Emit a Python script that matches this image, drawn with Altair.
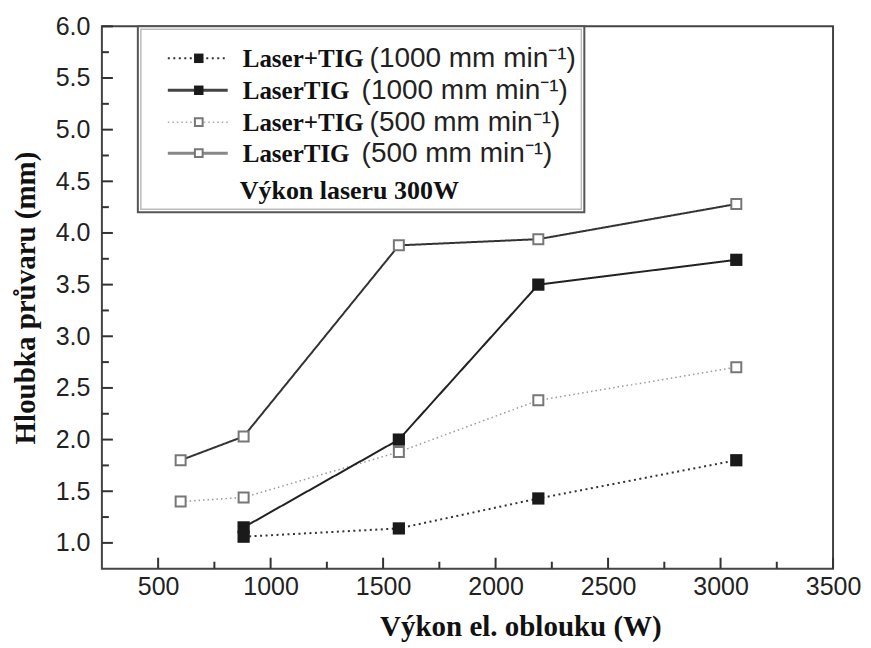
import altair as alt
import pandas as pd

# ---- data ----
x_1000 = [880, 1570, 2190, 3070]
y_plus_1000 = [1.06, 1.14, 1.43, 1.80]      # Laser+TIG (1000 mm/min)
y_laser_1000 = [1.15, 2.00, 3.50, 3.74]     # LaserTIG (1000 mm/min)
x_500 = [600, 880, 1570, 2190, 3070]
y_plus_500 = [1.40, 1.44, 1.88, 2.38, 2.70]  # Laser+TIG (500 mm/min)
y_laser_500 = [1.80, 2.03, 3.88, 3.94, 4.28] # LaserTIG (500 mm/min)

x_major = [500, 1000, 1500, 2000, 2500, 3000, 3500]
x_minor = [750, 1250, 1750, 2250, 2750, 3250]
y_major = [1.0, 1.5, 2.0, 2.5, 3.0, 3.5, 4.0, 4.5, 5.0, 5.5, 6.0]
y_minor = [1.25, 1.75, 2.25, 2.75, 3.25, 3.75, 4.25, 4.75, 5.25, 5.75]

legend_names = ["Laser+TIG", "LaserTIG", "Laser+TIG", "LaserTIG"]
legend_speeds = ["(1000 mm min\u207b\u00b9)", "(1000 mm min\u207b\u00b9)",
                 "(500 mm min\u207b\u00b9)", "(500 mm min\u207b\u00b9)"]
legend_note = "Výkon laseru 300W"
x_title = "Výkon el. oblouku (W)"
y_title = "Hloubka průvaru (mm)"

W, H = 732, 543
SANS = "Liberation Sans"
SERIF = "Liberation Serif"

xs = alt.Scale(domain=[250, 3500], nice=False, zero=False)
ys = alt.Scale(domain=[0.75, 6.0], nice=False, zero=False)

xaxis = alt.Axis(values=x_major, format="d", ticks=False, domain=False, grid=False,
                 labelFont=SANS, labelFontSize=25, labelColor="#222", labelPadding=6,
                 labelFlush=False, title=x_title, titleFont=SERIF, titleFontWeight="bold",
                 titleFontSize=29, titleColor="#111", titleX=419, titleY=44,
                 titleAlign="center", titleBaseline="top")
yaxis = alt.Axis(values=y_major, format=".1f", ticks=False, domain=False, grid=False,
                 labelFont=SANS, labelFontSize=25, labelColor="#222", labelPadding=12,
                 labelFlush=False, title=y_title, titleFont=SERIF, titleFontWeight="bold",
                 titleFontSize=29, titleColor="#111", titleX=-76, titleY=H / 2,
                 titleAngle=-90, titleAlign="center", titleBaseline="middle")


def X(field="x"):
    return alt.X(f"{field}:Q", scale=xs, axis=xaxis)


def Y(field="y"):
    return alt.Y(f"{field}:Q", scale=ys, axis=yaxis)


def series(xv, yv, dash, color, width, filled):
    df = pd.DataFrame({"x": xv, "y": yv})
    base = alt.Chart(df)
    line = base.mark_line(color=color, strokeWidth=width, strokeDash=dash).encode(x=X(), y=Y())
    if filled:
        pts = base.mark_point(shape="square", filled=True, color="#1a1a1a", size=150, opacity=1).encode(x=X(), y=Y())
    else:
        pts = base.mark_point(shape="square", filled=True, fill="white", stroke="#777",
                              strokeWidth=2, size=100, opacity=1).encode(x=X(), y=Y())
    return [line, pts]


layers = []
layers += series(x_500, y_plus_500, [1.5, 3], "#9a9a9a", 1.5, False)
layers += series(x_500, y_laser_500, [1, 0], "#333", 2, False)
layers += series(x_1000, y_plus_1000, [2, 3.5], "#333", 2, True)
layers += series(x_1000, y_laser_1000, [1, 0], "#222", 2, True)

# inward ticks
tick_color = "#333"
layers.append(alt.Chart(pd.DataFrame({"x": x_major})).mark_rule(color=tick_color, strokeWidth=2)
              .encode(x=X(), y=alt.value(H), y2=alt.value(H - 11)))
layers.append(alt.Chart(pd.DataFrame({"x": x_minor})).mark_rule(color=tick_color, strokeWidth=2)
              .encode(x=X(), y=alt.value(H), y2=alt.value(H - 7)))
layers.append(alt.Chart(pd.DataFrame({"y": y_major})).mark_rule(color=tick_color, strokeWidth=2)
              .encode(y=Y(), x=alt.value(0), x2=alt.value(11)))
layers.append(alt.Chart(pd.DataFrame({"y": y_minor})).mark_rule(color=tick_color, strokeWidth=2)
              .encode(y=Y(), x=alt.value(0), x2=alt.value(7)))

# ---- legend box ----
one = alt.Data(values=[{"a": 1}])
layers.append(alt.Chart(one).mark_rect(fill="white", stroke="#555", strokeWidth=2)
              .encode(x=alt.value(36), x2=alt.value(483), y=alt.value(0), y2=alt.value(186)))
layers.append(alt.Chart(one).mark_rect(fill=None, stroke="#bbb", strokeWidth=1.5)
              .encode(x=alt.value(39), x2=alt.value(480), y=alt.value(3), y2=alt.value(183)))

row_y = [32, 64, 96, 127]
styles = [
    dict(dash=[2, 3.5], color="#333", width=2, filled=True),
    dict(dash=[1, 0], color="#444", width=3, filled=True),
    dict(dash=[1.5, 3], color="#aaa", width=1.5, filled=False),
    dict(dash=[1, 0], color="#888", width=3, filled=False),
]
speed_x = [268, 260, 268, 260]
for i, st in enumerate(styles):
    yy = row_y[i]
    layers.append(alt.Chart(one).mark_rule(color=st["color"], strokeWidth=st["width"], strokeDash=st["dash"])
                  .encode(x=alt.value(66), x2=alt.value(126), y=alt.value(yy)))
    if st["filled"]:
        layers.append(alt.Chart(one).mark_point(shape="square", filled=True, color="#1a1a1a", size=90, opacity=1)
                      .encode(x=alt.value(97), y=alt.value(yy)))
    else:
        layers.append(alt.Chart(one).mark_point(shape="square", filled=True, fill="white", stroke="#777",
                                                strokeWidth=2, size=60, opacity=1)
                      .encode(x=alt.value(97), y=alt.value(yy)))
    layers.append(alt.Chart(one).mark_text(align="left", baseline="middle", font=SERIF, fontWeight="bold",
                                           fontSize=25, color="#111")
                  .encode(x=alt.value(141), y=alt.value(yy + 1), text=alt.value(legend_names[i])))
    layers.append(alt.Chart(one).mark_text(align="left", baseline="middle", font=SANS,
                                           fontSize=28, color="#222")
                  .encode(x=alt.value(speed_x[i]), y=alt.value(yy + 1), text=alt.value(legend_speeds[i])))

layers.append(alt.Chart(one).mark_text(align="left", baseline="middle", font=SERIF, fontWeight="bold",
                                       fontSize=26, color="#111")
              .encode(x=alt.value(138), y=alt.value(165), text=alt.value(legend_note)))

chart = alt.layer(*layers).properties(
    width=W, height=H,
    padding={"left": 94, "top": 18, "right": 30, "bottom": 76},
    autosize=alt.AutoSizeParams(type="none"),
).configure_view(stroke="#444", strokeWidth=2)

chart.save("out.html", embed_options={"renderer": "svg", "actions": False})
